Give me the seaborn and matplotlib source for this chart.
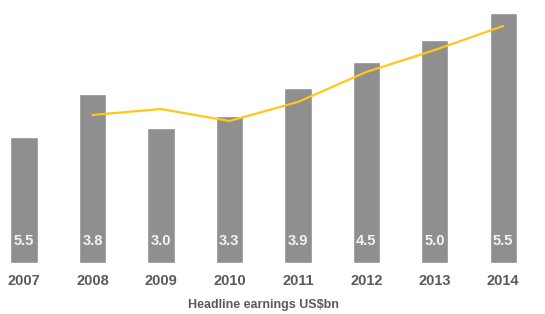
import matplotlib
matplotlib.use("Agg")
import matplotlib.pyplot as plt
import seaborn as sns

years = ["2007", "2008", "2009", "2010", "2011", "2012", "2013", "2014"]
bar_heights = [12.6, 16.9, 13.5, 14.7, 17.5, 20.1, 22.3, 25.0]
bar_labels = ["5.5", "3.8", "3.0", "3.3", "3.9", "4.5", "5.0", "5.5"]
line_years = ["2008", "2009", "2010", "2011", "2012", "2013", "2014"]
line_values = [14.8, 15.4, 14.2, 16.1, 19.1, 21.3, 23.7]

sns.set_style("white")
plt.rcParams["font.family"] = ["Liberation Sans", "DejaVu Sans"]

fig = plt.figure(figsize=(5.45, 3.14), dpi=100)
ax = fig.add_axes([0, 51 / 314, 1, 263 / 314])

sns.barplot(x=years, y=bar_heights, color="#8f8f8f", width=0.4, saturation=1, ax=ax)
xpos = [years.index(y) for y in line_years]
sns.lineplot(x=xpos, y=line_values, color="#ffc814", linewidth=1.6, ax=ax)

for i, lab in enumerate(bar_labels):
    ax.text(i, 2.2, lab, ha="center", va="center", color="#f4f4f4",
            fontsize=10.5, fontweight="bold")

ax.set_xlim(-0.35, 7.61)
ax.set_ylim(0, 26.3)
ax.set_yticks([])
ax.tick_params(axis="x", length=0, pad=8, labelsize=10.5, labelcolor="#5a5a5a")
for t in ax.get_xticklabels():
    t.set_fontweight("bold")
sns.despine(ax=ax, left=True, bottom=True)
ax.set_xlabel("")
ax.set_ylabel("")

fig.text(263 / 545, 1 - 305 / 314, "Headline earnings US$bn", ha="center", va="center",
         fontsize=9, fontweight="bold", color="#5a5a5a")

fig.savefig("out.png", dpi=100)
